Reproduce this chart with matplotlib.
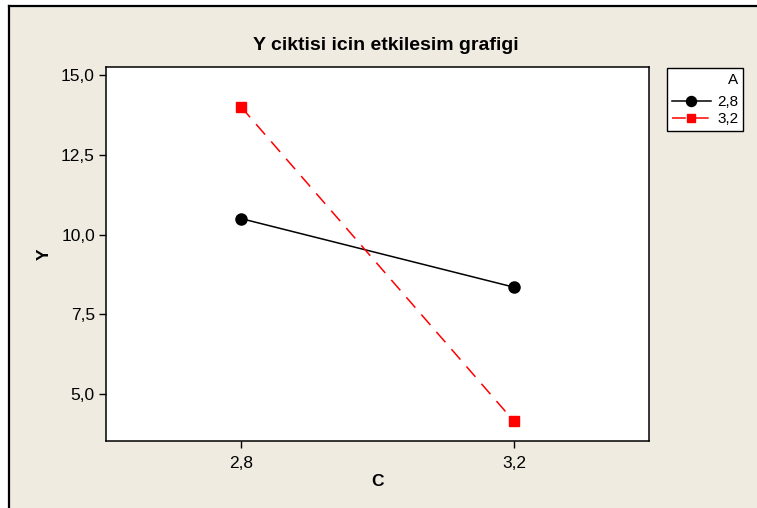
import matplotlib
matplotlib.use("Agg")
import matplotlib.pyplot as plt
from matplotlib.patches import Rectangle
from matplotlib.lines import Line2D

plt.rcParams['font.family'] = ['Liberation Sans', 'DejaVu Sans']

# Data
c_levels = [2.8, 3.2]
c_labels = ['2,8', '3,2']
series_names = ['2,8', '3,2']
y_a28 = [10.5, 8.35]
y_a32 = [14.0, 4.15]
y_ticks = [5.0, 7.5, 10.0, 12.5, 15.0]
y_tick_labels = ['5,0', '7,5', '10,0', '12,5', '15,0']

W, H = 757, 508
fig = plt.figure(figsize=(W / 100, H / 100), dpi=100)
fig.patch.set_facecolor('white')

bg = '#EFEBE1'
fig.patches.append(Rectangle((9 / W, 0), 1 - 9 / W, 1 - 6 / H, transform=fig.transFigure,
                             facecolor=bg, edgecolor='none', zorder=-10))
fig.lines.append(Line2D([9 / W, 1], [1 - 6 / H, 1 - 6 / H], transform=fig.transFigure,
                        color='black', lw=1.6))
fig.lines.append(Line2D([9 / W, 9 / W], [0, 1 - 6 / H], transform=fig.transFigure,
                        color='black', lw=1.6))

left, right, top, bottom = 106, 649, 67, 441
ax = fig.add_axes([left / W, 1 - bottom / H, (right - left) / W, (bottom - top) / H])
ax.set_facecolor('white')

ax.plot(c_levels, y_a28, color='black', lw=1.1, marker='o', markersize=8,
        label=series_names[0])
ax.plot(c_levels, y_a32, color='red', lw=1.1, dashes=(9, 6), marker='s', markersize=7,
        label=series_names[1])

ax.set_xlim(2.602, 3.398)
ax.set_ylim(3.53, 15.25)
ax.set_xticks(c_levels)
ax.set_xticklabels(c_labels)
ax.set_yticks(y_ticks)
ax.set_yticklabels(y_tick_labels)
ax.tick_params(direction='out', length=5, width=1, labelsize=12.5, colors='black')
ax.tick_params(axis='x', pad=6)
ax.tick_params(axis='y', pad=3)
for s in ax.spines.values():
    s.set_linewidth(1.1)
    s.set_color('black')

ax.set_xlabel('C', fontsize=12.5, fontweight='bold', labelpad=2)
ax.set_ylabel('Y', fontsize=12.5, fontweight='bold', labelpad=7)

fig.text(386 / W, 1 - 45 / H, 'Y ciktisi icin etkilesim grafigi', ha='center', va='center',
         fontsize=14, fontweight='bold')

leg = fig.legend(handles=ax.get_lines(), labels=series_names, title='A',
                 loc='upper left', bbox_to_anchor=(667 / W, 1 - 68 / H),
                 frameon=True, fancybox=False, edgecolor='black', facecolor='white',
                 fontsize=11, title_fontsize=11, handlelength=2.6, borderpad=0.3,
                 labelspacing=0.2, handletextpad=0.4, borderaxespad=0, markerscale=0.9,
                 framealpha=1)
leg.get_frame().set_linewidth(1.0)
leg._legend_box.align = 'right'
leg._legend_box.sep = 6

fig.savefig('out.png', dpi=100, facecolor=fig.get_facecolor())
